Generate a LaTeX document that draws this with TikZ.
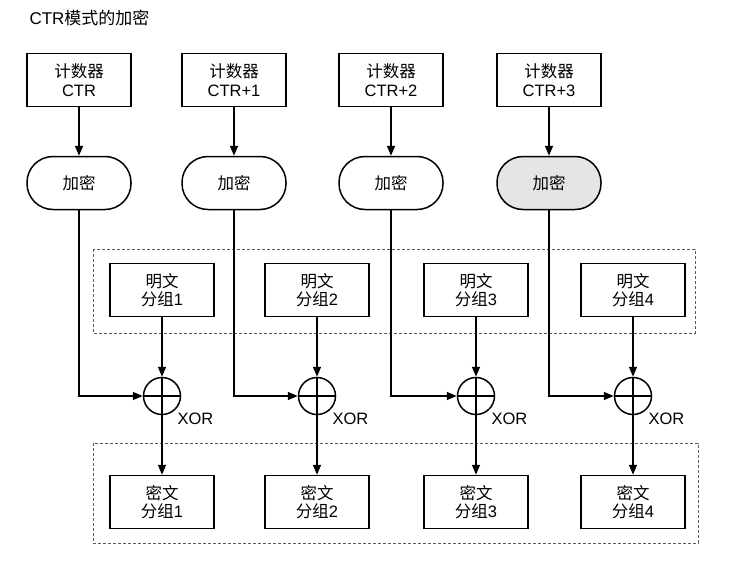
\documentclass[tikz,border=0pt]{standalone}
\usepackage{fontspec}
\setmainfont{Liberation Sans}
\newfontfamily\cjk{Noto Sans CJK SC}
\usetikzlibrary{arrows.meta}
\begin{document}
\begin{tikzpicture}[x=1pt,y=-1pt, font=\fontsize{16.5}{18.5}\selectfont,
  box/.style={draw, line width=1.5pt, minimum width=104pt, minimum height=53pt, align=center, inner sep=0pt},
  encbox/.style={box, rounded corners=26pt},
  xorc/.style={draw, circle, line width=1.5pt, minimum size=37pt, inner sep=0pt},
  arr/.style={line width=1.5pt, -{Triangle[length=10pt,width=8pt]}},
  grp/.style={dashed, line width=0.6pt, dash pattern=on 3pt off 2pt, draw=black!65}
]
\useasboundingbox (0,0) rectangle (752,565);
\node[anchor=west, font=\fontsize{17}{20}\selectfont] (title) at (26,18) {CTR{\cjk 模式的加密}};
\draw[grp] (93,249) rectangle (695,333);
\draw[grp] (93,443) rectangle (698,543);
\foreach \i/\cx/\px/\lab/\fc in {1/79/162/CTR/white, 2/234/317/CTR+1/white, 3/391/476/CTR+2/white, 4/549/633/CTR+3/black!10}{
  \node[box] (ctr\i) at (\cx,80) {{\cjk 计数器}\\\lab};
  \node[encbox, fill=\fc] (enc\i) at (\cx,183) {\cjk 加密};
  \node[box] (pt\i) at (\px,290) {{\cjk 明文}\\{\cjk 分组}\i};
  \node[xorc] (xor\i) at (\px,396) {};
  \node[anchor=west] (xl\i) at ([xshift=12pt,yshift=-23pt]xor\i.center) {XOR};
  \node[box] (ct\i) at (\px,502) {{\cjk 密文}\\{\cjk 分组}\i};
  \draw[line width=1.5pt] (xor\i.north) -- (xor\i.south) (xor\i.west) -- (xor\i.east);
  \draw[arr] (ctr\i) -- (enc\i);
  \draw[arr] (pt\i) -- (xor\i);
  \draw[arr] (enc\i.south) |- (xor\i.west);
  \draw[arr] (xor\i) -- (ct\i);
}
\end{tikzpicture}
\end{document}
